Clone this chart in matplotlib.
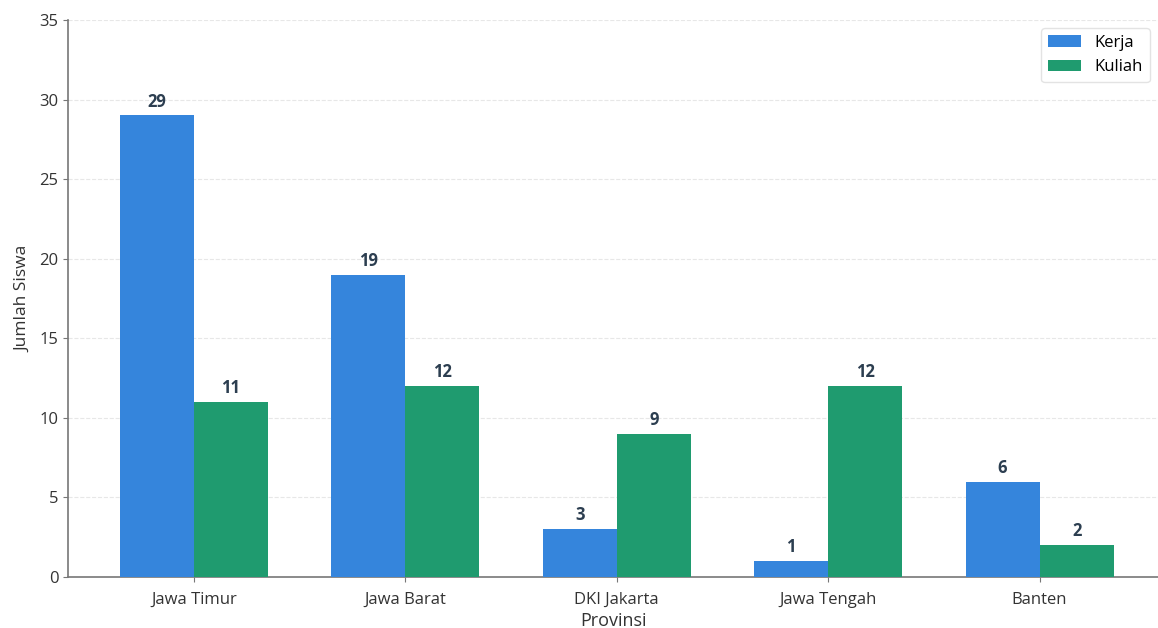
import matplotlib
matplotlib.use("Agg")
import matplotlib.pyplot as plt
import numpy as np

provinsi = ["Jawa Timur", "Jawa Barat", "DKI Jakarta", "Jawa Tengah", "Banten"]
kerja = [29, 19, 3, 1, 6]
kuliah = [11, 12, 9, 12, 2]

plt.rcParams['font.family'] = ['Open Sans', 'DejaVu Sans']

fig = plt.figure(figsize=(11.58, 6.28), dpi=100)
ax = fig.add_axes([68/1158, 1-577/628, (1158-68)/1158, (577-20)/628])

x = np.arange(len(provinsi))
w = 0.35
b1 = ax.bar(x - w/2, kerja, w, color="#3585DC", label="Kerja", zorder=3)
b2 = ax.bar(x + w/2, kuliah, w, color="#1F9B6F", label="Kuliah", zorder=3)

for bars in (b1, b2):
    for r in bars:
        ax.text(r.get_x() + r.get_width()/2, r.get_height() + 0.3, f"{int(r.get_height())}",
                ha="center", va="bottom", fontsize=12, fontweight="bold", color="#2c3e50")

ax.set_xticks(x)
ax.set_xticklabels(provinsi, fontsize=12, color="#333333")
ax.set_xlim(-0.596, 4.56)
ax.set_ylim(0, 35)
ax.set_yticks(range(0, 36, 5))
ax.tick_params(axis='y', labelsize=12, colors="#333333")
ax.tick_params(axis='x', pad=7)
ax.tick_params(axis='both', color="#777777")
ax.set_xlabel("Provinsi", fontsize=13, color="#333333", labelpad=3)
ax.set_ylabel("Jumlah Siswa", fontsize=12.5, color="#333333", labelpad=6)
ax.grid(axis='y', linestyle='--', color="#dddddd", alpha=0.7, zorder=0)
for s in ("top", "right"):
    ax.spines[s].set_visible(False)
for s in ("left", "bottom"):
    ax.spines[s].set_color("#777777")
    ax.spines[s].set_linewidth(1.2)
ax.legend(loc="upper right", fontsize=12, frameon=True, edgecolor="#dddddd")

fig.savefig("out.png", dpi=100)
